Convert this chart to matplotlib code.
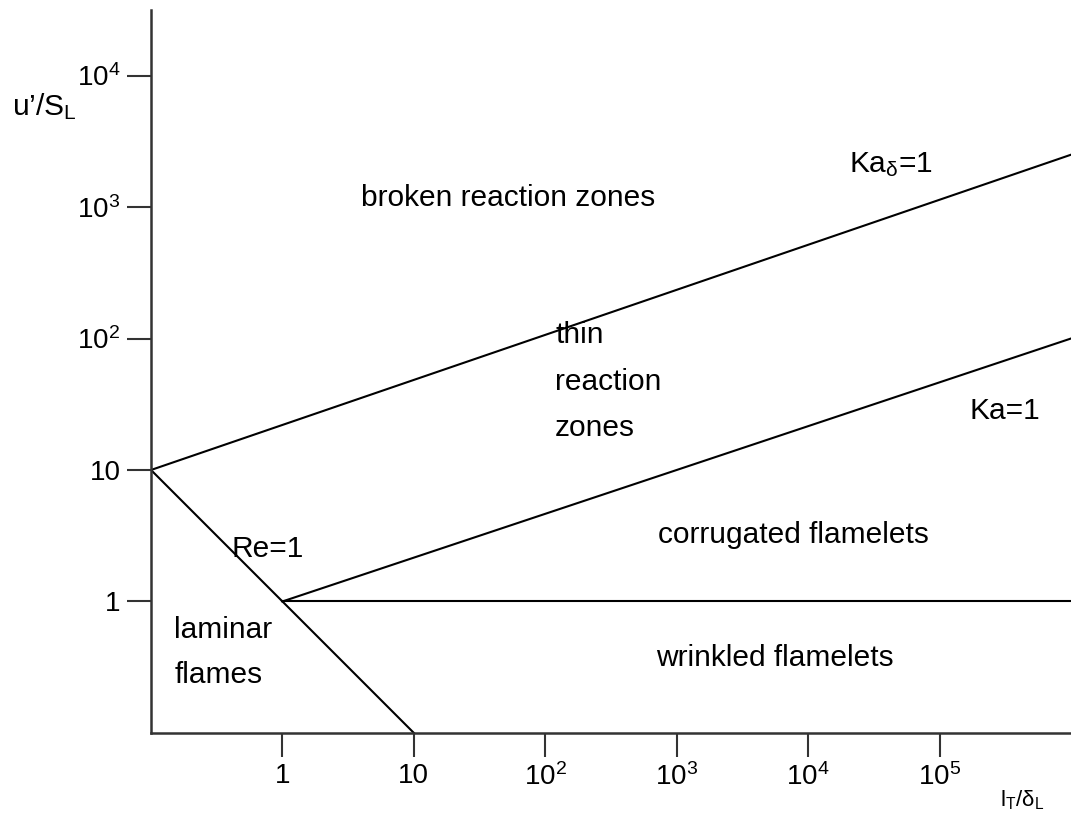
import matplotlib
matplotlib.use("Agg")
import matplotlib.pyplot as plt

plt.rcParams['font.family'] = ['Liberation Sans', 'DejaVu Sans']
plt.rcParams['mathtext.fontset'] = 'custom'
plt.rcParams['mathtext.rm'] = 'Liberation Sans'
plt.rcParams['mathtext.it'] = 'Liberation Sans:italic'

# regime boundaries (l_T/delta_L, u'/S_L)
re_x = [0.1, 10]
re_y = [10, 0.1]
ka_x = [1, 1e6]
ka_y = [1, 100]
kad_x = [0.1, 1e6]
kad_y = [10, 2500]
wr_x = [1, 1e6]
wr_y = [1, 1]

x_ticks = [1, 10, 100, 1e3, 1e4, 1e5]
x_labels = ["1", "10", "$10^{2}$", "$10^{3}$", "$10^{4}$", "$10^{5}$"]
y_ticks = [1, 10, 100, 1e3, 1e4]
y_labels = ["1", "10", "$10^{2}$", "$10^{3}$", "$10^{4}$"]

fig = plt.figure(figsize=(10.71, 8.18), dpi=100)
ax = fig.add_axes([0.141, 0.104, 0.859, 0.884])
ax.set_xscale('log')
ax.set_yscale('log')
ax.set_xlim(0.1, 1e6)
ax.set_ylim(0.1, 10**4.5)

for xs, ys in [(re_x, re_y), (ka_x, ka_y), (kad_x, kad_y), (wr_x, wr_y)]:
    ax.plot(xs, ys, color='black', linewidth=1.5)

ax.spines['top'].set_visible(False)
ax.spines['right'].set_visible(False)
for s in ['left', 'bottom']:
    ax.spines[s].set_linewidth(1.8)
    ax.spines[s].set_color('#333333')

ax.set_xticks(x_ticks)
ax.set_xticklabels(x_labels)
ax.set_yticks(y_ticks)
ax.set_yticklabels(y_labels)
ax.minorticks_off()
ax.tick_params(direction='out', length=17, width=1.5, color='#333333', labelsize=20, pad=5)

font_size = 21.5
ax.text(52, 1180, "broken reaction zones", fontsize=font_size, ha='center', va='center')
ax.text(43000, 2100, "Ka$_{\\rm δ}$=1", fontsize=font_size, ha='center', va='center')
ax.text(119, 47, "thin\nreaction\nzones", fontsize=font_size, ha='left', va='center', linespacing=1.85)
ax.text(313000, 27.9, "Ka=1", fontsize=font_size, ha='center', va='center')
ax.text(0.77, 2.5, "Re=1", fontsize=font_size, ha='center', va='center')
ax.text(7700, 3.2, "corrugated flamelets", fontsize=font_size, ha='center', va='center')
ax.text(0.15, 0.41, "laminar\nflames", fontsize=font_size, ha='left', va='center', linespacing=1.8)
ax.text(5600, 0.369, "wrinkled flamelets", fontsize=font_size, ha='center', va='center')

fig.text(12 / 1071, 1 - 107 / 818, "u’/S$_{\\rm L}$", fontsize=font_size, ha='left', va='center')
fig.text(1022 / 1071, 1 - 800 / 818, "l$_{\\rm T}$/δ$_{\\rm L}$", fontsize=16, ha='center', va='center')

plt.savefig("out.png", dpi=100)
